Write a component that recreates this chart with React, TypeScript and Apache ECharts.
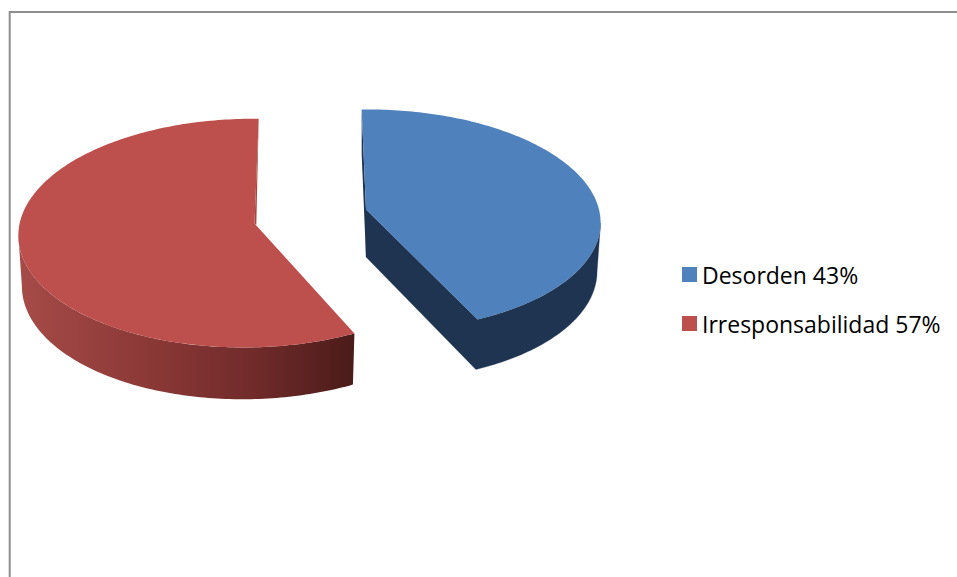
import React, { useEffect, useRef } from "react";
import * as echarts from "echarts";

const sliceLabels = ["Desorden 43%", "Irresponsabilidad 57%"];
const sliceValues = [43, 57];
const topColors = ["#4f81bd", "#bd4f4c"];
const total = sliceValues.reduce((a, b) => a + b, 0);

// Perspective view of each exploded slice's disc
const views = [
  { x0: 366, y0: 209.5, a: 226, b: 109.5, k: 0.095, m: 0.03, shear: 4.76, depth: 47.5, shrink: 0.985 },
  { x0: 254.5, y0: 223.5, a: 229, b: 113.5, k: 0.084, m: -0.025, shear: -4.55, depth: 49.5, shrink: 0.985 },
];

type V = (typeof views)[number];

function project(v: V, t: number, r = 1): number[] {
  const u = Math.sin(t) * r;
  const w = -Math.cos(t) * r;
  const s = 1 / (1 - v.k * w - v.m * u);
  return [v.x0 + (v.a * u + v.shear * w) * s, v.y0 + v.b * w * s];
}

function lower(v: V, t: number, r = 1): number[] {
  const p = project(v, t, r);
  const w = -Math.cos(t) * r;
  const u = Math.sin(t) * r;
  const s = 1 / (1 - v.k * w - v.m * u);
  return [v.x0 + (p[0] - v.x0) * v.shrink, p[1] + v.depth * (1 + (s - 1) * 0.5)];
}

function arc(f: (t: number) => number[], from: number, to: number): number[][] {
  const n = Math.max(2, Math.ceil(Math.abs(to - from) / (Math.PI / 180)));
  const out: number[][] = [];
  for (let i = 0; i <= n; i++) out.push(f(from + ((to - from) * i) / n));
  return out;
}

// angle at which the disc's outline reaches its widest point on one side
function widest(v: V, from: number, to: number, sign: number): number {
  let best = from;
  let bestX = -Infinity;
  for (let i = 0; i <= 360; i++) {
    const t = from + ((to - from) * i) / 360;
    const x = project(v, t)[0] * sign;
    if (x > bestX) {
      bestX = x;
      best = t;
    }
  }
  return best;
}

function sliceRender(index: number) {
  return (_params: any, api: any) => {
    const before = sliceValues.slice(0, index).reduce((a, b) => a + b, 0);
    const t0 = (before / total) * Math.PI * 2;
    const t1 = t0 + (api.value(0) / total) * Math.PI * 2;
    const v = views[index];
    const top = (t: number) => project(v, t);
    const bot = (t: number) => lower(v, t);
    const apex = project(v, 0, 0);
    const apexLow = lower(v, 0, 0);
    const children: any[] = [];
    if (index === 0) {
      const wallFill = "#1f3450";
      const from = widest(v, t0, t1, 1);
      children.push({
        type: "polygon",
        shape: { points: [apex, apexLow, ...arc(bot, t1, from), ...arc(top, from, t1)] },
        style: { fill: wallFill, stroke: wallFill, lineWidth: 0.3 },
      });
      children.push({
        type: "polygon",
        shape: { points: [top(t0), bot(t0), apexLow, apex] },
        style: { fill: wallFill },
      });
    } else {
      const to = widest(v, t0, t1, -1);
      children.push({
        type: "polygon",
        shape: { points: [...arc(top, t0, to), ...arc(bot, to, t0)] },
        style: {
          fill: new echarts.graphic.LinearGradient(
            18,
            0,
            355,
            0,
            [
              { offset: 0, color: "#a64b48" },
              { offset: 0.4, color: "#8a3836" },
              { offset: 0.7, color: "#702b2a" },
              { offset: 1, color: "#4a1b19" },
            ],
            true
          ),
        },
      });
      const e = top(t1);
      children.push({
        type: "polygon",
        shape: { points: [e, [apex[0] + 1.8, apex[1] + 1.5], apex] },
        style: { fill: "#a54441" },
      });
    }
    children.push({
      type: "polygon",
      shape: { points: [apex, ...arc(top, t0, t1)] },
      style: { fill: topColors[index] },
    });
    return { type: "group", children };
  };
}

export default function App() {
  const ref = useRef<HTMLDivElement>(null);
  useEffect(() => {
    document.body.style.margin = "0";
    document.body.style.overflow = "hidden";
    const chart = echarts.init(ref.current!, undefined, { renderer: "svg" });
    chart.setOption({
      animation: false,
      backgroundColor: "#ffffff",
      legend: {
        orient: "vertical",
        left: 682,
        top: 263,
        padding: 0,
        itemWidth: 15,
        itemHeight: 15,
        itemGap: 26,
        icon: "rect",
        data: sliceLabels,
        textStyle: { fontFamily: "Open Sans", fontSize: 23, color: "#000000", padding: [0, 0, 0, 0] },
      },
      graphic: [
        {
          type: "polyline",
          silent: true,
          shape: { points: [[9.7, 577], [9.7, 12], [957, 12]] },
          style: { stroke: "#8e8e8e", lineWidth: 2, fill: "none" },
        },
      ],
      series: sliceLabels.map((name, i) => ({
        type: "custom",
        name,
        coordinateSystem: "none",
        itemStyle: { color: topColors[i] },
        renderItem: sliceRender(i),
        data: [[sliceValues[i]]],
        silent: true,
      })),
    });
    return () => chart.dispose();
  }, []);
  return <div ref={ref} style={{ width: 957, height: 577 }} />;
}
